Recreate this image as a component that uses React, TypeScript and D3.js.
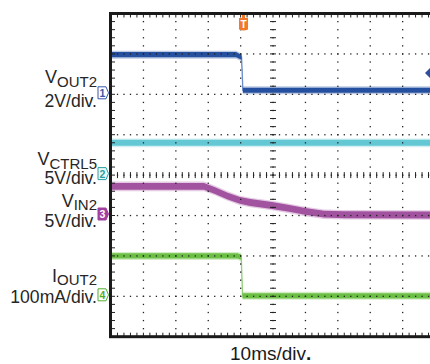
import React from "react";
import * as d3 from "d3";

const W = 430;
const H = 364;

// Time axis: 10 ms/div, 10 divisions (values in ms)
const timeDomainMs = [0, 100];
const divisionsX = 10;
const divisionsY = 8;
const minorPerDiv = 5;

// Trigger position (ms) and channel-1 trigger level (V)
const triggerTimeMs = 40.9;
const triggerLevelV = 1.06;

// Channel 1: VOUT2 (V), 2 V/div
const ch1Times = [0, 38.6, 39.9, 40.3, 40.7, 100];
const ch1Values = [1.96, 1.96, 1.86, 1.84, 0.2, 0.2];

// Channel 2: VCTRL5 (V), 5 V/div
const ch2Times = [0, 100];
const ch2Values = [4.0, 4.0];

// Channel 3: VIN2 (V), 5 V/div
const ch3Times = [0, 28.7, 32.1, 36.0, 39.8, 43.0, 49.7, 55.0, 59.9, 65.7, 72.0, 100];
const ch3Values = [3.6, 3.6, 3.09, 2.41, 1.86, 1.61, 1.24, 0.87, 0.5, 0.16, 0.09, 0.06];

// Channel 4: IOUT2 (mA), 100 mA/div
const ch4Times = [0, 39.0, 40.2, 40.6, 100];
const ch4Values = [100, 100, 97, 1.2, 1.2];

// Labels
const labelMain = ["V", "V", "V", "I"];
const labelSub = ["OUT2", "CTRL5", "IN2", "OUT2"];
const labelScale = ["2V/div.", "5V/div.", "5V/div.", "100mA/div."];
const markerText = ["1", "2", "3", "4"];
const perDiv = [2, 5, 5, 100];
const refDiv = [2, 0, -1, -3];
const timeLabel = "10ms/div";

const channels = [
  { t: ch1Times, v: ch1Values, color: "#24509f", halo: "#7d98cc", half: 2.6, thin: "#7f9fd8" },
  { t: ch2Times, v: ch2Values, color: "#63c8d3", halo: "#a6e0e6", half: 3.0, thin: "#63c8d3" },
  { t: ch3Times, v: ch3Values, color: "#a1539f", halo: "#c995c7", half: 3.4, thin: "#b77ab5" },
  { t: ch4Times, v: ch4Values, color: "#6cbf45", halo: "#a8da8e", half: 2.6, thin: "#9fd48a" },
];

// label layout offsets relative to channel reference line
const labelLayout = [
  { main: -11, scale: 13 },
  { main: -10, scale: 8.5 },
  { main: -9, scale: 11.5 },
  { main: -14.5, scale: 6.5 },
];

const markerStyle = [
  { stroke: "#3a56a8", fill: "#ffffff", text: "#3a56a8" },
  { stroke: "#2a9fa3", fill: "#e9f7f7", text: "#2a9fa3" },
  { stroke: "#a1409f", fill: "#a1409f", text: "#ffffff" },
  { stroke: "#4fae2f", fill: "#ffffff", text: "#4fae2f" },
];

const FONT = "'Liberation Sans', Arial, Helvetica, sans-serif";

export default function App() {
  const left = 111;
  const top = 13.5;
  const divW = 32.4;
  const divH = 40.4;
  const x = d3
    .scaleLinear()
    .domain(timeDomainMs)
    .range([left, left + divW * divisionsX]);
  const yDiv = d3
    .scaleLinear()
    .domain([divisionsY / 2, -divisionsY / 2])
    .range([top, top + divH * divisionsY]);
  const bottom = yDiv(-divisionsY / 2);

  const yFor = (ci: number, val: number) => yDiv(refDiv[ci] + val / perDiv[ci]);

  // grid
  const minorXs = d3.range(0, divisionsX * minorPerDiv + 1).map((i) => x(timeDomainMs[0] + (i * (timeDomainMs[1] - timeDomainMs[0])) / (divisionsX * minorPerDiv)));
  const minorYs = d3.range(0, divisionsY * minorPerDiv + 1).map((j) => yDiv(divisionsY / 2 - j / minorPerDiv));
  const majorXs = d3.range(1, divisionsX).map((i) => x(timeDomainMs[0] + (i * (timeDomainMs[1] - timeDomainMs[0])) / divisionsX));
  const majorYs = d3.range(1, divisionsY).map((j) => yDiv(divisionsY / 2 - j));
  const centerX = x((timeDomainMs[0] + timeDomainMs[1]) / 2);
  const centerY = yDiv(0);

  const dots: React.ReactElement[] = [];
  majorXs.forEach((gx, i) => {
    minorYs.forEach((gy, j) => {
      dots.push(<rect key={`vx${i}-${j}`} x={gx - 0.6} y={gy - 0.6} width={1.3} height={1.3} fill="#222" />);
    });
  });
  majorYs.forEach((gy, j) => {
    minorXs.forEach((gx, i) => {
      dots.push(<rect key={`hy${j}-${i}`} x={gx - 0.6} y={gy - 0.6} width={1.3} height={1.3} fill="#222" />);
    });
  });

  const ticks: React.ReactElement[] = [];
  minorXs.forEach((gx, i) => {
    ticks.push(<line key={`tt${i}`} x1={gx} x2={gx} y1={top} y2={top + 4} stroke="#222" strokeWidth={1} />);
    ticks.push(<line key={`tb${i}`} x1={gx} x2={gx} y1={bottom} y2={bottom - 4} stroke="#222" strokeWidth={1} />);
    ticks.push(<line key={`tc${i}`} x1={gx} x2={gx} y1={centerY - 3} y2={centerY + 3} stroke="#222" strokeWidth={1} />);
  });
  minorYs.forEach((gy, j) => {
    ticks.push(<line key={`tl${j}`} x1={left} x2={left + 4} y1={gy} y2={gy} stroke="#222" strokeWidth={1} />);
    ticks.push(<line key={`tcv${j}`} x1={centerX - 3} x2={centerX + 3} y1={gy} y2={gy} stroke="#222" strokeWidth={1} />);
  });

  const traces = channels.map((ch, ci) => {
    const pts = ch.t.map((t, k) => [t, ch.v[k]] as [number, number]);
    const areaCore = d3
      .area<[number, number]>()
      .x((d) => x(d[0]))
      .y0((d) => yFor(ci, d[1]) - ch.half)
      .y1((d) => yFor(ci, d[1]) + ch.half);
    const areaHalo = d3
      .area<[number, number]>()
      .x((d) => x(d[0]))
      .y0((d) => yFor(ci, d[1]) - ch.half - 1.4)
      .y1((d) => yFor(ci, d[1]) + ch.half + 1.4);
    const line = d3
      .line<[number, number]>()
      .x((d) => x(d[0]))
      .y((d) => yFor(ci, d[1]));
    return (
      <g key={`tr${ci}`}>
        <path d={areaHalo(pts) || ""} fill={ch.halo} opacity={0.5} />
        <path d={line(pts) || ""} fill="none" stroke={ch.thin} strokeWidth={1.4} />
        <path d={areaCore(pts) || ""} fill={ch.color} />
      </g>
    );
  });

  const labels = channels.map((_, ci) => {
    const ry = yDiv(refDiv[ci]);
    const lay = labelLayout[ci];
    return (
      <g key={`lb${ci}`} fill="#262626" fontFamily={FONT}>
        <text x={97} y={ry + lay.main} textAnchor="end" fontSize={18}>
          {labelMain[ci]}
          <tspan fontSize={15} dy={3.5}>
            {labelSub[ci]}
          </tspan>
        </text>
        <text x={97} y={ry + lay.scale} textAnchor="end" fontSize={17.6}>
          {labelScale[ci]}
        </text>
      </g>
    );
  });

  const markers = channels.map((_, ci) => {
    const ry = yDiv(refDiv[ci]) - 1.5;
    const st = markerStyle[ci];
    return (
      <g key={`mk${ci}`}>
        <path
          d={`M${98},${ry - 6} L${106},${ry - 6} L${108.5},${ry} L${106},${ry + 6} L${98},${ry + 6} Z`}
          fill={st.fill}
          stroke={st.stroke}
          strokeWidth={1}
        />
        <text x={102.5} y={ry + 4} textAnchor="middle" fontSize={10.5} fontWeight="bold" fontFamily={FONT} fill={st.text}>
          {markerText[ci]}
        </text>
      </g>
    );
  });

  const tx = x(triggerTimeMs);
  const tlY = yFor(0, triggerLevelV);

  return (
    <svg width={W} height={H} style={{ position: "absolute", left: 0, top: 0, background: "#fff" }}>
      <rect x={0} y={0} width={W} height={H} fill="#fff" />
      {traces}
      {dots}
      {ticks}
      <rect x={left - 0.5} y={top} width={W} height={bottom - top} fill="none" stroke="#1a1a1a" strokeWidth={3} />
      {markers}
      {labels}
      {/* trigger position marker */}
      <g>
        <path
          d={`M${tx - 1.5},${top + 1.5} L${tx + 1.5},${top + 1.5} L${tx + 1.5},${top + 4.5} L${tx + 4.5},${top + 4.5} L${tx + 4.5},${top + 16} Q${tx},${top + 18} ${tx - 4.5},${top + 16} L${tx - 4.5},${top + 4.5} L${tx - 1.5},${top + 4.5} Z`}
          fill="#f07a2a"
        />
        <text x={tx} y={top + 14.5} textAnchor="middle" fontSize={10} fontWeight="bold" fontFamily={FONT} fill="#fff">
          T
        </text>
      </g>
      {/* trigger level marker */}
      <path d={`M${W - 5},${tlY} L${W},${tlY - 5} L${W + 5},${tlY} L${W},${tlY + 5} Z`} fill="#2c4fa0" />
      <text x={230} y={360} fontSize={19} fontFamily={FONT} fill="#1a1a1a">
        {timeLabel}
        <tspan fontWeight="bold">.</tspan>
      </text>
    </svg>
  );
}
